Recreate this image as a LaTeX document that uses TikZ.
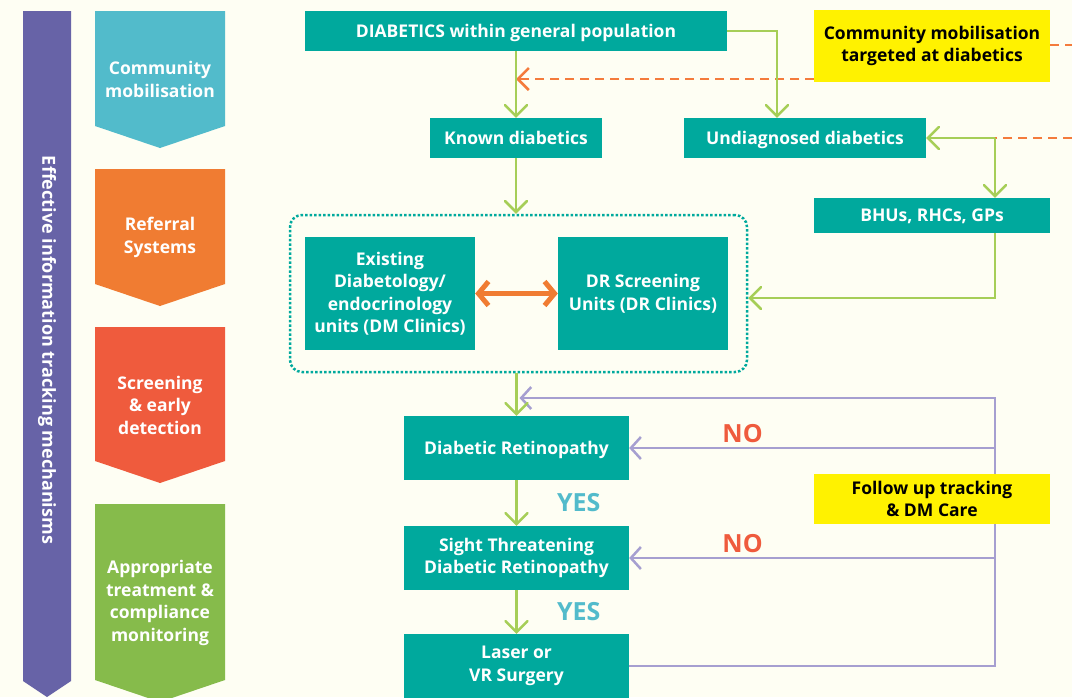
\documentclass[tikz,border=0pt]{standalone}
\usepackage{fontspec}
\setmainfont{Open Sans}
\usepackage{xcolor}
\definecolor{bgcream}{HTML}{FEFEF3}
\definecolor{boxteal}{HTML}{00A99D}
\definecolor{barpurple}{HTML}{6763A7}
\definecolor{lavender}{HTML}{A69FD0}
\definecolor{leafgreen}{HTML}{A6CE57}
\definecolor{dashorange}{HTML}{F47B3C}
\definecolor{mobcyan}{HTML}{52BBCB}
\definecolor{reforange}{HTML}{F07C32}
\definecolor{screenred}{HTML}{EF5B3D}
\definecolor{treatgreen}{HTML}{86BB4B}
\definecolor{noteyellow}{HTML}{FFF200}
\usetikzlibrary{arrows.meta,positioning,calc}

\tikzset{
  boxtext/.style={font=\fontsize{17.5}{22.5}\selectfont\bfseries, align=center, inner sep=0pt},
  tealbox/.style={boxtext, fill=boxteal, text=white},
  notebox/.style={boxtext, fill=noteyellow, text=black},
  oneline/.style={text height=14pt, text depth=1.5pt},
  stagetext/.style={font=\fontsize{17.5}{22.5}\selectfont\bfseries, align=center, text=white},
  greenline/.style={leafgreen, line width=2.5pt, -{Straight Barb[length=11pt,width=22pt,line cap=round]}},
  purpleline/.style={lavender, line width=2.5pt},
  dashline/.style={dashorange, line width=2.5pt, dash pattern=on 9pt off 6pt},
  answer/.style={font=\fontsize{25}{26}\selectfont\bfseries}
}

\begin{document}
\begin{tikzpicture}[x=1pt,y=-1pt]
  \useasboundingbox (0,0) rectangle (1072,697);
  \fill[bgcream] (0,0) rectangle (1072,697);

  % tracking bar
  \fill[barpurple] (23,11) -- (71,11) -- (71,681) -- (47,697) -- (23,681) -- cycle;
  \node[stagetext, rotate=-90, font=\fontsize{18}{20}\selectfont\bfseries] (trackbar) at (47,350) {Effective information tracking mechanisms};

  % stages
  \foreach \top/\bot/\col/\txt [count=\i] in {11/126/mobcyan/{Community\\mobilisation},
      169/284/reforange/{Referral\\Systems},
      327/461/screenred/{Screening\\\& early\\detection},
      504/680/treatgreen/{Appropriate\\treatment \&\\compliance\\monitoring}} {
    \fill[\col] (95,\top) -- (225,\top) -- (225,\bot) -- (160,\bot+22) -- (95,\bot) -- cycle;
    \node[stagetext] (stage\i) at (160,{(\top+\bot+22)/2}) {\txt};
  }

  % flow boxes
  \node[tealbox, oneline, minimum width=422pt, minimum height=40pt] (pop) at (516,31) {DIABETICS within general population};
  \node[notebox, minimum width=236pt, minimum height=72pt] (mobil) at (932,46) {Community mobilisation\\targeted at diabetics};
  \node[tealbox, oneline, minimum width=172pt, minimum height=40pt] (known) at (516,138) {Known diabetics};
  \node[tealbox, oneline, minimum width=242pt, minimum height=40pt] (undiag) at (805,138) {Undiagnosed diabetics};
  \node[tealbox, oneline, minimum width=236pt, minimum height=35pt] (bhu) at (932,215.5) {BHUs, RHCs, GPs};
  \node[draw=boxteal, line width=2.5pt, dotted, rounded corners=12pt, minimum width=457pt, minimum height=157pt] (clinics) at (518.5,293.5) {};
  \node[tealbox, minimum width=170pt, minimum height=113pt] (dmclin) at (390,293.5) {Existing\\Diabetology/\\endocrinology\\units (DM Clinics)};
  \node[tealbox, minimum width=170pt, minimum height=113pt] (drclin) at (643,293.5) {DR Screening\\Units (DR Clinics)};
  \node[tealbox, oneline, minimum width=225pt, minimum height=64pt] (dr) at (516.5,448) {Diabetic Retinopathy};
  \node[tealbox, minimum width=225pt, minimum height=64pt] (stdr) at (516.5,558) {Sight Threatening\\Diabetic Retinopathy};
  \node[tealbox, minimum width=225pt, minimum height=64pt] (laser) at (516.5,666) {Laser or\\VR Surgery};

  \coordinate (popturn) at (777,31);
  \coordinate (mobdash) at (814,79);
  \coordinate (edgetop) at (1072,45);
  \coordinate (edgemid) at (1072,138);
  \coordinate (undjoin) at (995,138);
  \coordinate (bhuturn) at (995,298);
  \coordinate (tracktop) at (995,398);
  \coordinate (trackbot) at (995,666);

  % mobilisation
  \draw[dashline] (mobil.east |- edgetop) -- (edgetop);
  \draw[dashline] (edgemid) -- (undjoin);
  \draw[dashline, -{Straight Barb[length=11pt,width=22pt]}] (mobdash) -- (mobdash -| pop.south);

  % referral
  \draw[greenline] (pop) -- (known);
  \draw[greenline] (pop.east) -- (popturn) -- (popturn |- undiag.north);
  \draw[greenline] (undjoin) -- (undiag.east);
  \draw[greenline] (undjoin) -- (undjoin |- bhu.north);
  \draw[greenline] (undjoin |- bhu.south) -- (bhuturn) -- (bhuturn -| clinics.east);
  \draw[greenline] (known.south) -- (known.south |- clinics.north);
  \draw[reforange, line width=5pt, {Straight Barb[length=10pt,width=24pt]}-{Straight Barb[length=10pt,width=24pt]}] (dmclin) -- (drclin);

  % screening and follow up
  \draw[purpleline, -{Straight Barb[length=10pt,width=22pt]}] (laser.east) -- (trackbot) -- (tracktop) -- ([xshift=3pt]tracktop -| dr.north);
  \draw[purpleline, -{Straight Barb[length=10pt,width=22pt]}] (tracktop |- dr.east) -- (dr.east) node[answer, screenred, pos=0.69, above=1pt] (no1) {NO};
  \draw[purpleline, -{Straight Barb[length=10pt,width=22pt]}] (tracktop |- stdr.east) -- (stdr.east) node[answer, screenred, pos=0.69, above=1pt] (no2) {NO};
  \draw[greenline] (dr.north |- clinics.south) -- (dr.north);
  \draw[greenline] (dr) -- (stdr) node[answer, mobcyan, midway, right=36pt] (yes1) {YES};
  \draw[greenline] (stdr) -- (laser) node[answer, mobcyan, midway, right=36pt] (yes2) {YES};
  \node[notebox, minimum width=236pt, minimum height=50pt] (follow) at (932,499) {Follow up tracking\\\& DM Care};
\end{tikzpicture}
\end{document}
